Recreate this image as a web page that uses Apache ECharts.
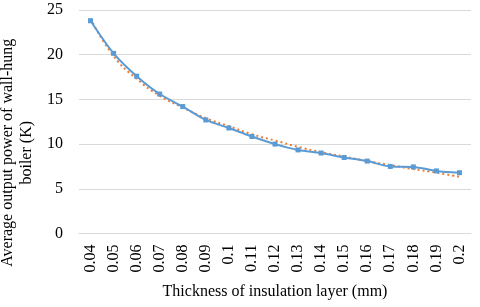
<!DOCTYPE html>
<html>
<head>
<meta charset="utf-8">
<script src="https://cdn.jsdelivr.net/npm/echarts@6/dist/echarts.min.js"></script>
<style>html,body{margin:0;padding:0;background:#fff;}#c{width:480px;height:307px;}</style>
</head>
<body>
<div id="c"></div>
<script>
var categories = ['0.04','0.05','0.06','0.07','0.08','0.09','0.1','0.11','0.12','0.13','0.14','0.15','0.16','0.17','0.18','0.19','0.2'];
var outputPower = [23.8, 20.15, 17.6, 15.6, 14.2, 12.7, 11.8, 10.85, 10.0, 9.35, 9.0, 8.5, 8.1, 7.5, 7.45, 7.0, 6.8];
var trendValues = [24.05, 19.85, 17.3, 15.4, 14.1, 12.9, 12.0, 11.1, 10.4, 9.7, 9.1, 8.6, 8.1, 7.65, 7.2, 6.8, 6.35];
var yTicks = {min: 0, max: 25, interval: 5};

var font = '"Liberation Serif", "Times New Roman", serif';
var chart = echarts.init(document.getElementById('c'));
chart.setOption({
  animation: false,
  grid: {left: 79, right: 9, top: 10, bottom: 73.5, containLabel: false, outerBoundsMode: 'none'},
  xAxis: {
    type: 'category',
    data: categories,
    boundaryGap: true,
    name: 'Thickness of insulation layer (mm)',
    nameLocation: 'middle',
    nameGap: 50,
    nameTextStyle: {fontFamily: font, fontSize: 16, color: '#000'},
    axisLine: {show: true, lineStyle: {color: '#d9d9d9', width: 1}},
    axisTick: {show: false},
    axisLabel: {rotate: 90, margin: 11, fontFamily: font, fontSize: 16, color: '#000', interval: 0}
  },
  yAxis: {
    type: 'value',
    min: yTicks.min, max: yTicks.max, interval: yTicks.interval,
    name: 'Average output power of wall-hung\nboiler (K)',
    nameLocation: 'middle',
    nameGap: 39,
    nameTextStyle: {fontFamily: font, fontSize: 16, color: '#000', lineHeight: 19, align: 'center', padding: [0, 62, 0, 0]},
    axisLine: {show: false},
    axisTick: {show: false},
    axisLabel: {margin: 16, fontFamily: font, fontSize: 16, color: '#000'},
    splitLine: {lineStyle: {color: '#d9d9d9', width: 1}}
  },
  series: [
    {
      type: 'line',
      data: outputPower,
      smooth: 0.3,
      symbol: 'rect',
      symbolSize: 5,
      lineStyle: {color: '#5B9BD5', width: 2},
      itemStyle: {color: '#5B9BD5'},
      z: 3
    },
    {
      type: 'line',
      data: trendValues,
      smooth: true,
      symbol: 'none',
      lineStyle: {color: '#ED7D31', width: 2, type: [2, 3]},
      z: 2
    }
  ]
});
</script>
</body>
</html>
